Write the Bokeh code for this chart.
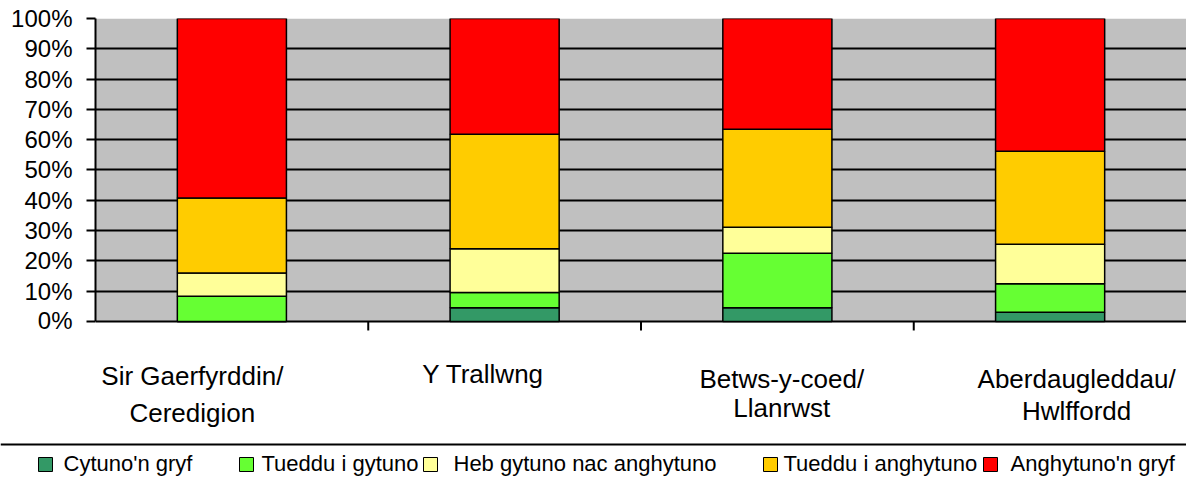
from bokeh.plotting import figure
from bokeh.models import (Range1d, FixedTicker, PrintfTickFormatter, ColumnDataSource, BoxAnnotation)
from bokeh.layouts import column
from bokeh.core.properties import value
from bokeh.embed import file_html
from bokeh.resources import INLINE

# ---------------- data ----------------
categories = ["Sir Gaerfyrddin/ Ceredigion", "Y Trallwng", "Betws-y-coed/ Llanrwst", "Aberdaugleddau/ Hwlffordd"]
label_line1 = ["Sir Gaerfyrddin/", "Y Trallwng", "Betws-y-coed/", "Aberdaugleddau/"]
label_line2 = ["Ceredigion", "", "Llanrwst", "Hwlffordd"]

series = ["Cytuno'n gryf", "Tueddu i gytuno", "Heb gytuno nac anghytuno", "Tueddu i anghytuno", "Anghytuno'n gryf"]
cytuno_gryf = [0.0, 4.5, 4.5, 3.0]
tueddu_gytuno = [8.3, 5.0, 18.0, 9.4]
heb_gytuno = [7.7, 14.5, 8.6, 13.1]
tueddu_anghytuno = [24.7, 37.8, 32.3, 30.7]
anghytuno_gryf = [59.3, 38.2, 36.6, 43.8]
colors = ["#339966", "#66FF33", "#FFFF99", "#FFCC00", "#FF0000"]
y_ticks = list(range(0, 101, 10))

# ---------------- layout constants ----------------
FONT = value("Liberation Sans")
W = 1186
FRAME_LEFT = 95
MAIN_H = 333
LAB_H = 103
LEG_H = 43
label_dx = [-0.145, -0.079, 0.016, 0.097]
line1_y = [375, 373, 378, 378]
line2_y = [412, 412, 407, 410]
legend_sq_x = [45, 246, 430, 770, 990]
legend_tx_x = [63, 261, 453, 783, 1010]

n = len(categories)
xpos = [i + 0.5 for i in range(n)]   # category slot centres on a linear scale
keys = ["s0", "s1", "s2", "s3", "s4"]
source = ColumnDataSource(dict(x=xpos, cat=categories, s0=cytuno_gryf, s1=tueddu_gytuno, s2=heb_gytuno,
                               s3=tueddu_anghytuno, s4=anghytuno_gryf))

# ---------------- main chart ----------------
# y-range extends a little below 0 so the separator ticks under the plot area fit in the frame
p = figure(x_range=Range1d(0, n), y_range=Range1d(-4, 100), width=W, height=MAIN_H,
           output_backend="svg", toolbar_location=None, x_axis_location=None,
           min_border_left=FRAME_LEFT, min_border_right=0, min_border_top=18, min_border_bottom=0,
           background_fill_color="white", border_fill_color="white", outline_line_color=None)

p.add_layout(BoxAnnotation(bottom=0, top=100, fill_color="#C0C0C0", fill_alpha=1.0,
                           line_color=None, level="image"))

p.vbar_stack(keys, x="x", width=0.4, source=source, fill_color=colors,
             line_color="black", line_width=1.5)

bounds = list(range(1, n))
p.segment(x0=bounds, y0=[0] * len(bounds), x1=bounds, y1=[-3] * len(bounds),
          line_color="black", line_width=2)

p.xgrid.visible = False

p.yaxis.bounds = (0, 100)
p.yaxis.ticker = FixedTicker(ticks=y_ticks)
p.yaxis.formatter = PrintfTickFormatter(format="%d%%")
p.yaxis.major_label_text_font = "Liberation Sans"
p.yaxis.major_label_text_font_size = "24px"
p.yaxis.major_label_text_color = "black"
p.yaxis.axis_line_color = "black"
p.yaxis.axis_line_width = 2
p.yaxis.major_tick_line_color = "black"
p.yaxis.major_tick_line_width = 2
p.yaxis.major_tick_out = 9
p.yaxis.major_tick_in = 0
p.yaxis.minor_tick_line_color = None
p.yaxis.major_label_standoff = 14

p.ygrid.ticker = FixedTicker(ticks=y_ticks)
p.ygrid.grid_line_color = "black"
p.ygrid.grid_line_width = 2

# ---------------- category labels ----------------
lab = figure(x_range=p.x_range, y_range=Range1d(MAIN_H + LAB_H, MAIN_H), width=W, height=LAB_H,
             output_backend="svg", toolbar_location=None, x_axis_location=None, y_axis_location=None,
             min_border_left=FRAME_LEFT, min_border_right=0, min_border_top=0, min_border_bottom=0,
             outline_line_color=None, background_fill_color="white", border_fill_color="white")
lab.grid.visible = False
lab.text(x=[x + d for x, d in zip(xpos, label_dx)], y=line1_y, text=label_line1,
         text_align="center", text_baseline="alphabetic",
         text_font=FONT, text_font_size="26px", text_color="black")
idx2 = [i for i, t in enumerate(label_line2) if t]
lab.text(x=[xpos[i] + label_dx[i] for i in idx2], y=[line2_y[i] for i in idx2],
         text=[label_line2[i] for i in idx2], text_align="center", text_baseline="alphabetic",
         text_font=FONT, text_font_size="26px", text_color="black")

# ---------------- legend ----------------
top = MAIN_H + LAB_H
leg = figure(x_range=Range1d(0, W), y_range=Range1d(top + LEG_H, top), width=W, height=LEG_H,
             output_backend="svg", toolbar_location=None, x_axis_location=None, y_axis_location=None,
             min_border=0, outline_line_color=None,
             background_fill_color="white", border_fill_color="white")
if "frame_align" in leg.properties():
    leg.frame_align = False   # keep the legend strip full-width, not aligned to the chart frame
leg.grid.visible = False
leg.segment(x0=[0], y0=[444], x1=[W], y1=[444], line_color="black", line_width=2)
leg.rect(x=legend_sq_x, y=[464] * 5, width=14, height=14, fill_color=colors,
         line_color="black", line_width=1)
leg.text(x=legend_tx_x, y=[463] * 5, text=series, text_align="left", text_baseline="middle",
         text_font=FONT, text_font_size="22px", text_color="black")

layout = column(p, lab, leg, spacing=0)
open("out.html", "w").write(file_html(layout, INLINE))
